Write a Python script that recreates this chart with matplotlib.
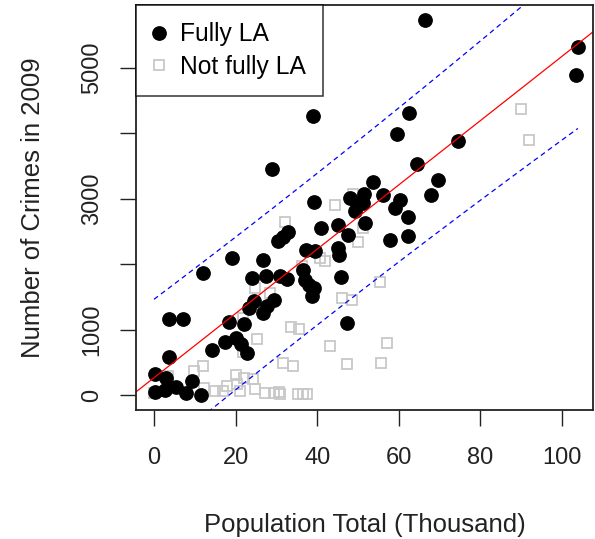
import numpy as np
import matplotlib
matplotlib.use("Agg")
import matplotlib.pyplot as plt

plt.rcParams['font.family'] = ['Liberation Sans', 'DejaVu Sans']

# fully LA (filled circles): population (thousand), crimes in 2009
full_x = [66.4, 103.9, 103.5, 38.9, 62.4, 59.5, 74.4, 64.4, 28.9, 53.7,
          69.5, 51.5, 56.2, 67.8, 60.3, 48.0, 51.3, 39.3, 49.7, 49.3,
          59.0, 62.3, 51.7, 45.2, 40.9, 32.9, 31.7, 30.5, 47.6, 62.3,
          57.8, 45.2, 45.4, 37.3, 39.5, 19.1, 26.8, 11.9, 24.0, 27.5,
          30.9, 32.6, 36.6, 37.0, 38.1, 39.1, 38.7, 45.8, 24.4, 29.3,
          27.8, 26.8, 23.4, 3.6, 7.0, 18.4, 22.0, 47.4, 20.2, 17.5,
          21.4, 22.9, 14.3, 3.6, 0.2, 2.9, 9.4, 5.5, 7.9, 2.6,
          0.2, 11.4]
full_y = [5727, 5320, 4893, 4255, 4314, 3985, 3887, 3532, 3456, 3253,
          3283, 3070, 3059, 3055, 2983, 3009, 2933, 2942, 2933, 2805,
          2857, 2713, 2628, 2602, 2552, 2491, 2415, 2354, 2450, 2424,
          2373, 2247, 2145, 2221, 2195, 2094, 2069, 1866, 1790, 1825,
          1825, 1774, 1916, 1764, 1688, 1637, 1520, 1805, 1433, 1459,
          1367, 1256, 1332, 1154, 1154, 1113, 1078, 1093, 875, 814,
          773, 646, 681, 585, 315, 265, 213, 128, 26, 76,
          46, 0]

# not fully LA (open squares)
part_x = [89.9, 91.9, 55.4, 57.2, 55.6, 51.3, 50.1, 48.7, 44.4, 32.2,
          40.7, 41.9, 36.2, 24.8, 28.5, 46.0, 48.5, 26.8, 21.8, 33.5,
          35.6, 25.2, 43.2, 21.8, 47.3, 31.6, 34.0, 12.0, 9.7, 3.4,
          20.2, 22.0, 24.3, 20.4, 12.2, 15.0, 16.8, 17.9, 21.1, 24.8,
          27.3, 29.3, 30.6, 30.9, 35.2, 36.4, 37.6, 0.0]
part_y = [4366, 3898, 1723, 788, 494, 2545, 2332, 3075, 2910, 2645,
          2094, 2043, 1966, 1637, 1561, 1485, 1459, 1256, 1180, 1040,
          1012, 860, 747, 656, 470, 488, 442, 442, 366, 285,
          300, 265, 239, 163, 110, 61, 61, 137, 61, 87,
          26, 26, 50, 20, 11, 11, 11, 26]

# regression line and prediction band
fit_intercept = 264
fit_slope = 49.1
band_c = 1159
band_xbar = 36
band_s = 18860

fig = plt.figure(figsize=(5.95, 5.39), dpi=100)
ax = fig.add_axes([136/595, 1-410/539, 457/595, 405/539])

ax.plot(part_x, part_y, 's', ms=7.2, mfc='none', mec='#c8c8c8', mew=1.3,
        linestyle='none', label='Not fully LA')
ax.plot(full_x, full_y, 'o', ms=9.6, color='black', linestyle='none',
        label='Fully LA')

xl = (-4.41, 107.6)
xx = np.array(xl)
ax.plot(xx, fit_intercept + fit_slope*xx, color='red', lw=0.9)

bx = np.linspace(min(full_x + part_x), max(full_x + part_x), 100)
hw = band_c*np.sqrt(1 + (bx - band_xbar)**2/band_s)
fy = fit_intercept + fit_slope*bx
ax.plot(bx, fy + hw, color='blue', lw=0.9, dashes=(4, 3))
ax.plot(bx, fy - hw, color='blue', lw=0.9, dashes=(4, 3))

ax.set_xlim(xl)
ax.set_ylim(-229, 5958)
ax.set_xticks([0, 20, 40, 60, 80, 100])
ax.set_yticks([0, 1000, 2000, 3000, 4000, 5000])
ax.set_yticklabels(['0', '1000', '', '3000', '', '5000'], rotation=90,
                   va='center')
ax.tick_params(direction='out', length=11.5, width=1, labelsize=17,
               colors='#222222')
ax.tick_params(axis='x', pad=15)
ax.tick_params(axis='y', pad=12)
for s in ax.spines.values():
    s.set_linewidth(1.3)
    s.set_color('#222222')

ax.set_xlabel('Population Total (Thousand)', fontsize=18.5, labelpad=32,
              color='#222222')
ax.set_ylabel('Number of Crimes in 2009', fontsize=18.5, labelpad=26,
              color='#222222')

h, l = ax.get_legend_handles_labels()
leg = ax.legend(h[::-1], l[::-1], loc='upper left', fontsize=17.7,
                frameon=True, fancybox=False, borderaxespad=0,
                handletextpad=0.6, borderpad=0.7, labelspacing=0.35,
                handlelength=0.5)
leg.get_frame().set_edgecolor('black')
leg.get_frame().set_linewidth(1.1)

fig.savefig('out.png', dpi=100)
